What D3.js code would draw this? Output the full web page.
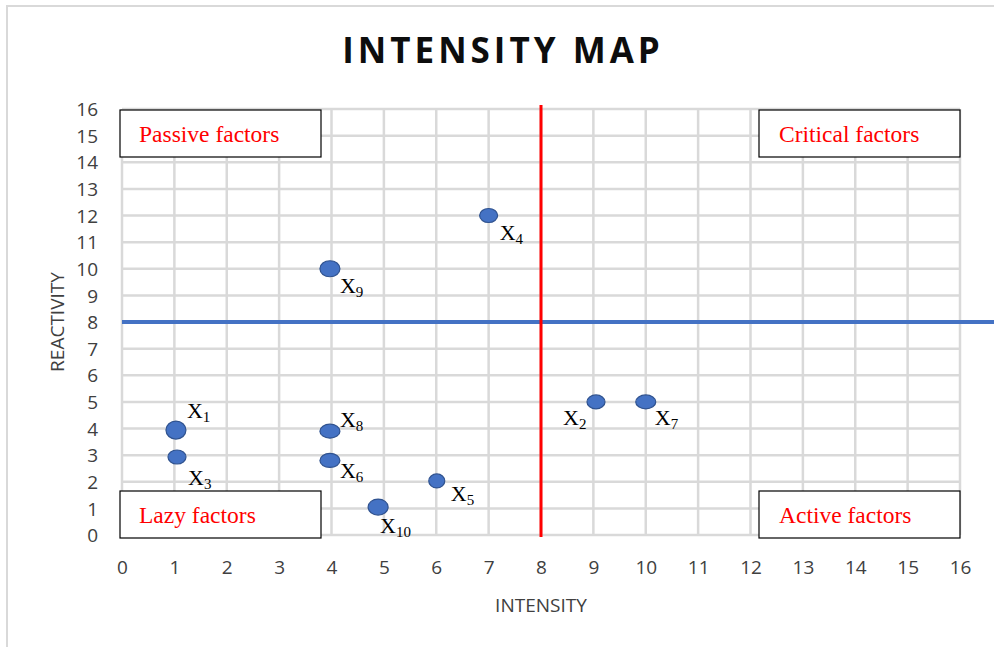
<!DOCTYPE html>
<html>
<head>
<meta charset="utf-8">
<script src="https://cdn.jsdelivr.net/npm/d3@7"></script>
<style>
  body { margin: 0; background: #fff; }
  svg { display: block; }
</style>
</head>
<body>
<svg id="chart" width="994" height="647"></svg>
<script>
// factors: intensity (x) vs reactivity (y)
const factorNames = ["1", "2", "3", "4", "5", "6", "7", "8", "9", "10"];
const intensity = [1.03, 9.05, 1.05, 7.0, 6.01, 3.97, 10.0, 3.97, 3.97, 4.89];
const reactivity = [3.94, 5.0, 2.93, 12.0, 2.03, 2.8, 5.0, 3.9, 10.0, 1.05];
// marker radii (rx, ry) and label offsets in px
const markerRx = [10, 9, 9, 9, 8, 10, 10, 10, 10, 10];
const markerRy = [9, 7, 7, 7, 7, 7, 7, 7, 8, 8];
const labelDx = [11, -33, 11, 11, 14, 10, 9, 10, 10, 2];
const labelDy = [-12, 23, 28, 24, 20, 18, 23, -4, 24, 26];

const xTicks = d3.range(0, 17);
const yTicks = d3.range(0, 17);
const quadrants = [
  { label: "Passive factors", x: 0, y: 16, anchor: "tl" },
  { label: "Critical factors", x: 16, y: 16, anchor: "tr" },
  { label: "Lazy factors", x: 0, y: 0, anchor: "bl" },
  { label: "Active factors", x: 16, y: 0, anchor: "br" }
];
const splitX = 8, splitY = 8;

var svg = d3.select("#chart"),
  margin = { top: 109, right: 34, bottom: 112, left: 122 },
  width = +svg.attr("width"),
  height = +svg.attr("height");

const x = d3.scaleLinear().domain([0, 16]).range([margin.left, width - margin.right]);
const y = d3.scaleLinear().domain([0, 16]).range([height - margin.bottom, margin.top]);

// outer frame
svg.append("rect")
  .attr("x", 7).attr("y", 6)
  .attr("width", 1000).attr("height", 700)
  .attr("fill", "#fff")
  .attr("stroke", "#d9d9d9")
  .attr("stroke-width", 2);

svg.append("text")
  .attr("x", 503)
  .attr("y", 63)
  .attr("text-anchor", "middle")
  .style("font-family", "'Open Sans', sans-serif")
  .style("font-weight", "bold")
  .style("font-size", "35px")
  .style("letter-spacing", "4px")
  .attr("fill", "#0d0d0d")
  .text("INTENSITY MAP");

// gridlines
svg.append("g")
  .selectAll("line.vg")
  .data(xTicks)
  .join("line")
  .attr("x1", (d) => x(d)).attr("x2", (d) => x(d))
  .attr("y1", y(0)).attr("y2", y(16))
  .attr("stroke", "#d9d9d9")
  .attr("stroke-width", 2.5);

svg.append("g")
  .selectAll("line.hg")
  .data(yTicks)
  .join("line")
  .attr("y1", (d) => y(d)).attr("y2", (d) => y(d))
  .attr("x1", x(0)).attr("x2", x(16))
  .attr("stroke", "#d9d9d9")
  .attr("stroke-width", 2.5);

// axes (labels only)
var xAxis = svg.append("g")
  .attr("transform", "translate(0," + (y(0) + 22) + ")")
  .call(d3.axisBottom(x).tickValues(xTicks).tickSize(0).tickFormat(d3.format("d")));
var yAxis = svg.append("g")
  .attr("transform", "translate(" + (x(0) - 21) + ",0)")
  .call(d3.axisLeft(y).tickValues(yTicks).tickSize(0).tickFormat(d3.format("d")));
[xAxis, yAxis].forEach((g) => {
  g.select(".domain").remove();
  g.selectAll("text")
    .style("font-family", "'Open Sans', sans-serif")
    .style("font-size", "19px")
    .attr("fill", "#404040");
});
yAxis.selectAll("text").attr("dy", "0.35em");

svg.append("text")
  .attr("x", x(8))
  .attr("y", 612)
  .attr("text-anchor", "middle")
  .style("font-family", "'Open Sans', sans-serif")
  .style("font-size", "19px")
  .attr("fill", "#404040")
  .text("INTENSITY");

svg.append("text")
  .attr("transform", "translate(64," + y(8) + ") rotate(-90)")
  .attr("text-anchor", "middle")
  .style("font-family", "'Open Sans', sans-serif")
  .style("font-size", "19px")
  .attr("fill", "#404040")
  .text("REACTIVITY");

// quadrant split lines
svg.append("line")
  .attr("x1", x(0)).attr("x2", width)
  .attr("y1", y(splitY)).attr("y2", y(splitY))
  .attr("stroke", "#4472c4")
  .attr("stroke-width", 4);
svg.append("line")
  .attr("x1", x(splitX)).attr("x2", x(splitX))
  .attr("y1", y(16) - 4).attr("y2", y(0) + 2)
  .attr("stroke", "#ff0000")
  .attr("stroke-width", 3);

// quadrant boxes
const boxW = 201, boxH = 47;
const qg = svg.append("g")
  .selectAll("g")
  .data(quadrants)
  .join("g")
  .attr("transform", (d) => {
    let bx = d.anchor[1] == "l" ? x(d.x) - 2 : x(d.x) - boxW;
    let by = d.anchor[0] == "t" ? y(d.y) + 1 : y(d.y) - boxH + 3;
    return "translate(" + bx + "," + by + ")";
  });
qg.append("rect")
  .attr("width", boxW).attr("height", boxH)
  .attr("fill", "#fff")
  .attr("stroke", "#000")
  .attr("stroke-width", 1.2);
qg.append("text")
  .attr("x", (d) => (d.anchor[1] == "l" ? 19 : 20))
  .attr("y", 32)
  .style("font-family", "'Liberation Serif', 'Times New Roman', serif")
  .style("font-size", "23.5px")
  .attr("fill", "#ff0000")
  .text((d) => d.label);

// points
const pts = factorNames.map((n, i) => ({
  name: n, ix: intensity[i], ry: reactivity[i],
  rx: markerRx[i], rr: markerRy[i], dx: labelDx[i], dy: labelDy[i]
}));

svg.append("g")
  .selectAll("ellipse")
  .data(pts)
  .join("ellipse")
  .attr("cx", (d) => x(d.ix))
  .attr("cy", (d) => y(d.ry))
  .attr("rx", (d) => d.rx)
  .attr("ry", (d) => d.rr)
  .attr("fill", "#4472c4")
  .attr("stroke", "#2f528f")
  .attr("stroke-width", 1.2);

var lbl = svg.append("g")
  .selectAll("text")
  .data(pts)
  .join("text")
  .attr("x", (d) => x(d.ix) + d.dx)
  .attr("y", (d) => y(d.ry) + d.dy)
  .style("font-family", "'Liberation Serif', 'Times New Roman', serif")
  .style("font-size", "22px")
  .attr("fill", "#000");
lbl.append("tspan").text("X");
lbl.append("tspan")
  .attr("dy", 4)
  .style("font-size", "15px")
  .text((d) => d.name);
</script>
</body>
</html>
